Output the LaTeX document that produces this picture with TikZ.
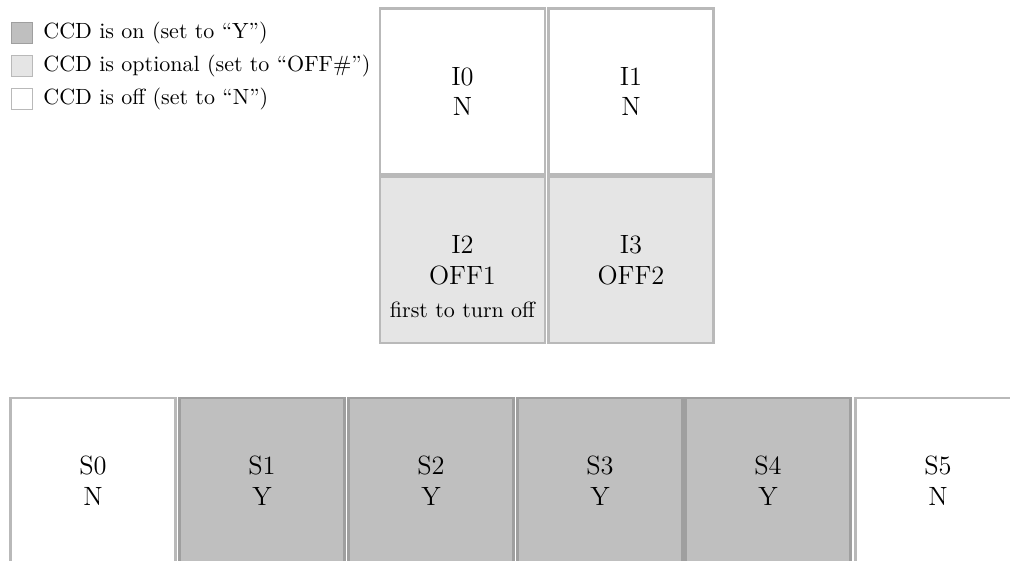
\documentclass[tikz,border=0pt]{standalone}
\usepackage{tikz}

\tikzset{
  ccd/.style={rectangle, draw=gray!55, line width=1pt, align=center,
    minimum width=75pt, minimum height=75.5pt, inner sep=0pt, font=\large},
  ccdon/.style={ccd, fill=gray!50, draw=gray!75},
  ccdopt/.style={ccd, fill=gray!20},
  ccdoff/.style={ccd, fill=white},
  keybox/.style={rectangle, draw=gray!55, line width=0.8pt,
    minimum size=9.5pt, inner sep=0pt},
  keytext/.style={anchor=west, inner sep=0pt}
}

\begin{document}
\begin{tikzpicture}[x=0.4545pt, y=-0.4545pt]
    \useasboundingbox (0,0) rectangle (1010,561);
    \clip (0,0) rectangle (1010,561);

    % Legend
      \node[keybox, fill=gray!50, draw=gray!75] (kon)  at (22,33)  {};
      \node[keybox, fill=gray!20]               (kopt) at (22,66)  {};
      \node[keybox, fill=white]                 (koff) at (22,99)  {};
      \node[keytext] (ton)  at (43,33) {CCD is on (set to ``Y'')};
      \node[keytext] (topt) at (43,66) {CCD is optional (set to ``OFF\#'')};
      \node[keytext] (toff) at (43,99) {CCD is off (set to ``N'')};

    % Imaging CCDs
      \node[ccdoff] (i0) at (462.5,91.5) {I0\\N};
      \node[ccdoff] (i1) at (631,91.5)   {I1\\N};
      \node[ccdopt] (i2) at (462.5,260)  {I2\\OFF1};
      \node[ccdopt] (i3) at (631,260)    {I3\\OFF2};
      \node[inner sep=0pt] (i2note) at (462.5,310) {first to turn off};

    % Spectroscopy CCDs
      \node[ccdoff] (s0) at (93,481)  {S0\\N};
      \node[ccdon]  (s1) at (262,481) {S1\\Y};
      \node[ccdon]  (s2) at (431,481) {S2\\Y};
      \node[ccdon]  (s3) at (600,481) {S3\\Y};
      \node[ccdon]  (s4) at (768,481) {S4\\Y};
      \node[ccdoff] (s5) at (938,481) {S5\\N};
\end{tikzpicture}
\end{document}
